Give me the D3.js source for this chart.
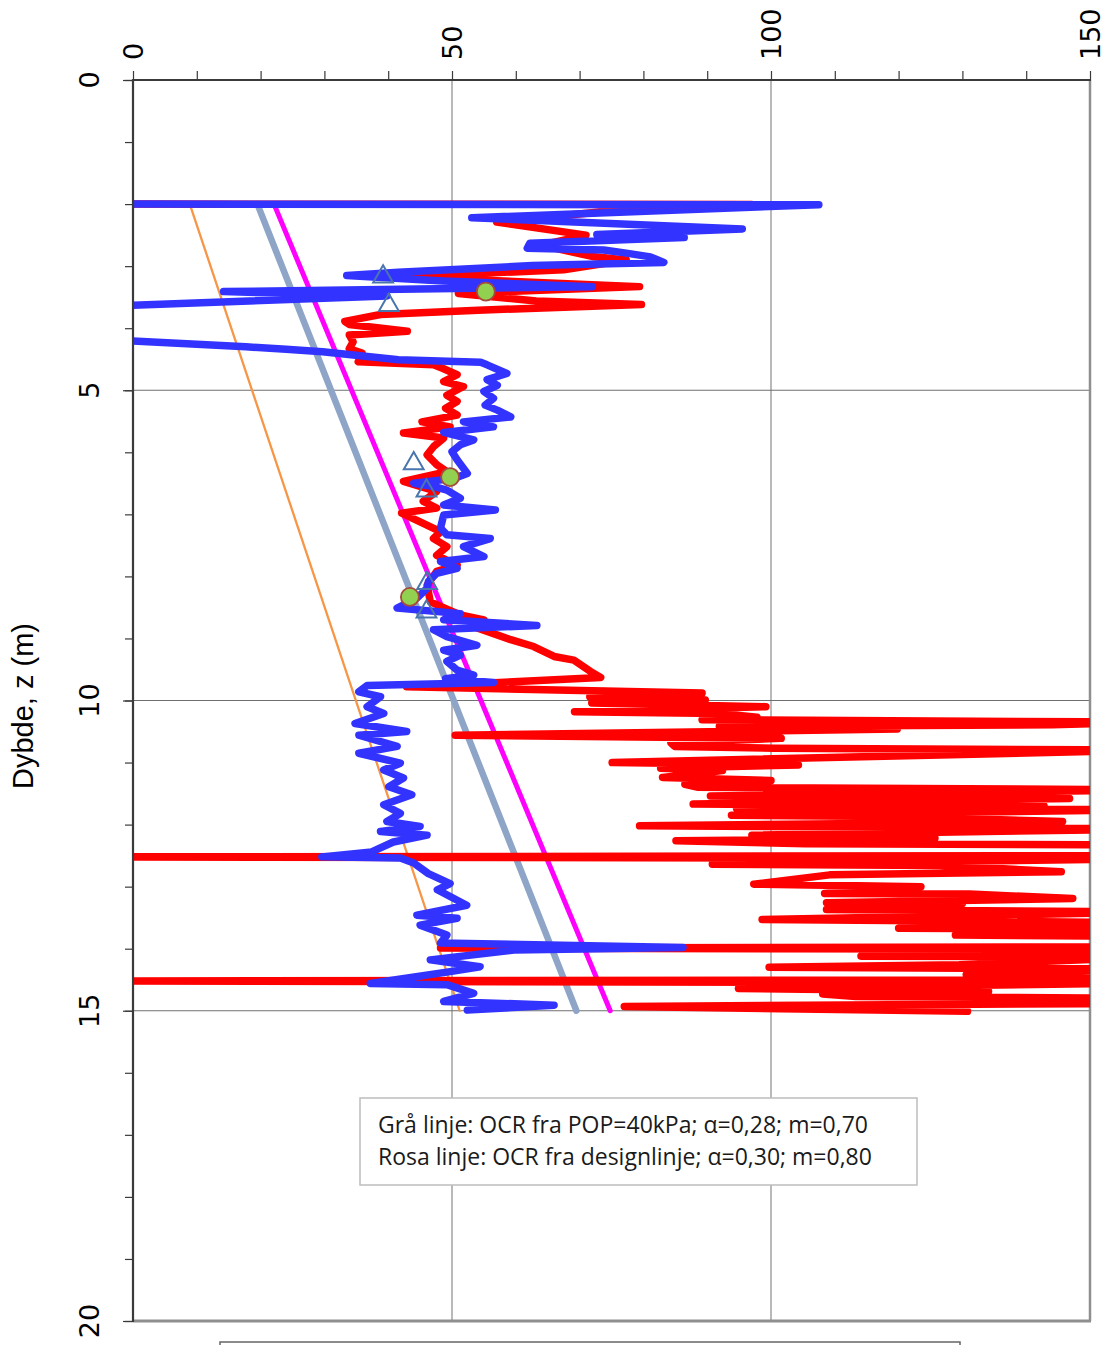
<!DOCTYPE html>
<html>
<head>
<meta charset="utf-8">
<script src="https://cdn.jsdelivr.net/npm/d3@7"></script>
<style>
  html, body { margin: 0; padding: 0; background: #fff; }
  svg { display: block; }
</style>
</head>
<body>
<svg id="chart" width="1108" height="1345"></svg>
<script>
// Profiles as [depth z (m), value]
const redProfile = [
  [2.00,-3],[2.005,97.0],[2.07,78.7],[2.29,57.0],[2.50,71.0],[2.66,64.0],[2.79,69.6],[2.85,72.3],[2.90,77.3],
  [3.06,67.5],[3.17,41.6],[3.33,79.4],[3.44,51.0],[3.56,63.2],[3.62,79.7],[3.71,54.1],[3.78,38.8],[3.89,33.2],
  [3.94,33.9],[4.05,43.0],[4.11,33.9],[4.22,34.5],[4.33,33.9],[4.40,35.9],[4.54,35.3],[4.59,47.1],[4.65,48.6],
  [4.75,50.8],[4.86,48.7],[4.94,51.8],[5.08,49.2],[5.18,50.8],[5.29,49.0],[5.40,50.8],[5.51,45.3],[5.59,49.7],
  [5.69,42.4],[5.77,48.7],[5.91,47.1],[6.04,46.1],[6.20,47.6],[6.31,49.2],[6.47,42.4],[6.63,47.6],[6.79,45.5],
  [6.90,47.6],[6.98,42.1],[7.12,45.0],[7.28,48.2],[7.39,47.1],[7.52,49.2],[7.66,47.6],[7.82,50.8],[7.92,47.6],
  [8.14,46.1],[8.41,46.6],[8.62,51.3],[8.70,55.0],[8.81,53.4],[9.02,59.2],[9.13,62.8],[9.29,66.0],[9.35,69.1],
  [9.53,71.7],[9.63,73.3],[9.78,42.9],[9.88,89.2],[9.94,71.6],[9.99,89.7],[10.04,71.9],[10.10,99.2],[10.18,69.2],
  [10.21,91.9],[10.27,97.8],[10.31,89.2],[10.35,160],[10.39,144.1],[10.42,91.9],[10.46,119.8],[10.56,50.5],
  [10.61,101.6],[10.68,84.3],[10.74,84.9],[10.77,100.5],[10.80,160],[11.00,75.1],[11.04,104.3],[11.09,82.7],
  [11.13,92.4],[11.24,83.0],[11.29,100.0],[11.35,86.5],[11.40,88.6],[11.44,160],[11.54,90.5],[11.58,146.8],
  [11.67,87.8],[11.70,142.8],[11.74,94.6],[11.76,160],[11.85,93.8],[11.87,118.7],[11.95,145.7],[12.02,79.4],
  [12.07,160],[12.17,97.0],[12.22,125.7],[12.26,85.1],[12.31,105.4],[12.33,160],[12.50,160],[12.52,-5],
  [12.55,160],[12.64,90.8],[12.66,126.5],[12.76,145.5],[12.81,109.2],[12.96,97.3],[13.00,123.5],[13.11,108.4],
  [13.12,131.1],[13.19,147.3],[13.26,108.7],[13.27,130.0],[13.37,108.7],[13.39,133.5],[13.41,160],[13.53,98.6],
  [13.58,160],[13.67,120.0],[13.69,160],[13.78,128.9],[13.80,160],[13.97,160],[13.99,48.2],[14.01,160],
  [14.06,125.2],[14.12,114.1],[14.13,160],[14.26,129.5],[14.30,99.7],[14.33,160],[14.42,130.6],[14.50,160],
  [14.52,-5],[14.55,160],[14.64,94.9],[14.69,134.1],[14.73,108.1],[14.77,113.3],[14.80,160],[14.88,160],
  [14.93,77.0],[15.01,130.8]
];

const blueProfile = [
  [2.00,-3],[2.01,107.5],[2.22,53.1],[2.40,95.5],[2.49,72.7],[2.54,86.4],[2.63,62.2],[2.71,61.8],[2.74,73.8],
  [2.79,77.3],[2.85,81.1],[2.94,83.2],[2.99,62.6],[3.10,41.6],[3.15,33.5],[3.24,48.6],[3.33,72.0],[3.41,14.2],
  [3.48,39.8],[3.64,-3],[4.19,-3],[4.30,17.7],[4.34,24.0],[4.38,29.7],[4.51,41.6],[4.55,54.5],[4.59,55.5],
  [4.73,58.6],[4.83,55.5],[4.92,57.1],[5.02,55.0],[5.13,56.5],[5.24,55.2],[5.32,57.1],[5.43,59.2],[5.51,51.8],
  [5.59,56.5],[5.68,48.7],[5.80,53.4],[5.88,51.3],[5.99,50.0],[6.12,50.8],[6.34,52.4],[6.42,50.3],[6.50,44.0],
  [6.55,47.1],[6.61,49.2],[6.74,51.3],[6.85,48.7],[6.93,56.8],[7.01,48.7],[7.22,48.2],[7.33,49.2],[7.39,56.0],
  [7.52,51.8],[7.68,55.0],[7.76,48.2],[7.87,50.8],[7.95,47.6],[8.08,46.3],[8.19,46.1],[8.35,44.5],[8.51,41.4],
  [8.60,51.3],[8.70,48.7],[8.79,63.3],[8.86,47.1],[8.97,49.2],[9.11,53.9],[9.19,48.7],[9.27,51.3],[9.37,49.2],
  [9.51,50.8],[9.59,53.4],[9.65,49.0],[9.71,56.5],[9.76,36.7],[9.86,35.4],[9.94,38.8],[10.10,36.7],[10.21,39.3],
  [10.37,34.8],[10.50,42.9],[10.56,35.4],[10.74,41.4],[10.85,35.4],[11.01,41.9],[11.12,39.3],[11.25,42.4],
  [11.39,40.1],[11.52,43.7],[11.68,39.3],[11.82,41.9],[11.95,39.8],[12.03,45.0],[12.11,38.8],[12.17,46.1],
  [12.28,40.8],[12.44,37.4],[12.52,29.6],[12.54,41.9],[12.62,44.0],[12.79,46.3],[12.95,49.7],[13.05,47.7],
  [13.30,52.3],[13.46,44.5],[13.51,50.8],[13.62,45.0],[13.78,49.2],[13.91,48.2],[13.98,86.2],[14.02,59.7],
  [14.18,46.6],[14.29,54.4],[14.37,49.7],[14.56,37.2],[14.58,49.2],[14.72,53.4],[14.85,48.7],[14.91,66.0],
  [14.99,52.4]
];

// Reference lines [depth, value]
const orangeLine = [[2.0, 8.9], [15.0, 51.2]];
const grayLine   = [[2.0, 19.5], [15.0, 69.5]];
const pinkLine   = [[2.0, 22.1], [15.0, 74.8]];

// Point markers [depth, value]
const triangleMarks = [[3.17,39.2],[3.63,40.1],[6.18,44.0],[6.62,46.0],[8.11,46.1],[8.57,46.0]];
const circleMarks   = [[3.41,55.3],[6.40,49.7],[8.33,43.4]];

// Axis ticks
const xTicksMajor = [0, 50, 100, 150];
const xTicksMinor = [0,10,20,30,40,50,60,70,80,90,100,110,120,130,140,150];
const yTicksMajor = [0, 5, 10, 15, 20];
const yTicksMinor = [0,1,2,3,4,5,6,7,8,9,10,11,12,13,14,15,16,17,18,19,20];
const yAxisTitle = "Dybde, z (m)";
const legendLines = [
  "Grå linje: OCR fra POP=40kPa; α=0,28; m=0,70",
  "Rosa linje: OCR fra designlinje; α=0,30; m=0,80"
];

const svg = d3.select("#chart");
const x = d3.scaleLinear().domain([0, 150]).range([133, 1090]);
const y = d3.scaleLinear().domain([0, 20]).range([80, 1321]);

// Gridlines
svg.append("g").selectAll("line").data([50, 100]).join("line")
  .attr("x1", d => x(d)).attr("x2", d => x(d))
  .attr("y1", y(0)).attr("y2", y(20))
  .attr("stroke", "#8a8a8a").attr("stroke-width", 1.2);
svg.append("g").selectAll("line").data([5, 10, 15]).join("line")
  .attr("x1", x(0)).attr("x2", x(150))
  .attr("y1", d => y(d)).attr("y2", d => y(d))
  .attr("stroke", "#6f6f6f").attr("stroke-width", 1.2);

// Right and bottom frame
svg.append("line").attr("x1", x(150)).attr("x2", x(150)).attr("y1", y(0)).attr("y2", y(20))
  .attr("stroke", "#8f8f8f").attr("stroke-width", 2.5);
svg.append("line").attr("x1", x(0)).attr("x2", x(150) + 1).attr("y1", y(20)).attr("y2", y(20))
  .attr("stroke", "#8f8f8f").attr("stroke-width", 3);

// Data layer
svg.append("clipPath").attr("id", "plotClip").append("rect")
  .attr("x", x(0)).attr("y", y(0) - 5)
  .attr("width", x(150) - x(0)).attr("height", y(20) - y(0) + 5);

const line = d3.line().x(d => x(d[1])).y(d => y(d[0]));
const plot = svg.append("g").attr("clip-path", "url(#plotClip)");

plot.append("path").datum(orangeLine).attr("d", line)
  .attr("fill", "none").attr("stroke", "#F79646").attr("stroke-width", 2.3).attr("stroke-linecap", "round");
plot.append("path").datum(grayLine).attr("d", line)
  .attr("fill", "none").attr("stroke", "#8EA5C8").attr("stroke-width", 6.5).attr("stroke-linecap", "round");
plot.append("path").datum(pinkLine).attr("d", line)
  .attr("fill", "none").attr("stroke", "#FF00FF").attr("stroke-width", 5).attr("stroke-linecap", "round");

plot.append("path").datum(redProfile).attr("d", line)
  .attr("fill", "none").attr("stroke", "#FF0000").attr("stroke-width", 7.5)
  .attr("stroke-linecap", "round").attr("stroke-linejoin", "round");
plot.append("path").datum(blueProfile).attr("d", line)
  .attr("fill", "none").attr("stroke", "#3333FF").attr("stroke-width", 7.5)
  .attr("stroke-linecap", "round").attr("stroke-linejoin", "round");

// Markers
const tri = d3.symbol().type(d3.symbolTriangle).size(170);
svg.append("g").selectAll("path").data(triangleMarks).join("path")
  .attr("d", tri)
  .attr("transform", d => `translate(${x(d[1])},${y(d[0])})`)
  .attr("fill", "none").attr("stroke", "#4A76AE").attr("stroke-width", 2);
svg.append("g").selectAll("circle").data(circleMarks).join("circle")
  .attr("cx", d => x(d[1])).attr("cy", d => y(d[0])).attr("r", 9)
  .attr("fill", "#92D050").attr("stroke", "#A54A3C").attr("stroke-width", 1.8);

// Axes
const axisColor = "#3a3a3a";
const topAxis = svg.append("g").attr("transform", `translate(0,${y(0)})`)
  .call(d3.axisTop(x).tickValues(xTicksMinor).tickSize(9).tickFormat(""));
topAxis.select(".domain").remove();
topAxis.selectAll(".tick line").attr("stroke", axisColor).attr("stroke-width", 1.2);

const leftMinor = svg.append("g").attr("transform", `translate(${x(0)},0)`)
  .call(d3.axisLeft(y).tickValues(yTicksMinor).tickSize(8).tickFormat(""));
leftMinor.select(".domain").remove();
leftMinor.selectAll(".tick line").attr("stroke", axisColor).attr("stroke-width", 1.2);
const leftMajor = svg.append("g").attr("transform", `translate(${x(0)},0)`)
  .call(d3.axisLeft(y).tickValues(yTicksMajor).tickSize(10).tickFormat(""));
leftMajor.select(".domain").remove();
leftMajor.selectAll(".tick line").attr("stroke", axisColor).attr("stroke-width", 1.2);

svg.append("line").attr("x1", x(0) - 1).attr("x2", x(150) + 1).attr("y1", y(0)).attr("y2", y(0))
  .attr("stroke", axisColor).attr("stroke-width", 2.2);
svg.append("line").attr("x1", x(0)).attr("x2", x(0)).attr("y1", y(0) - 1).attr("y2", y(20) + 1)
  .attr("stroke", axisColor).attr("stroke-width", 2.2);

// Tick labels (rotated)
svg.append("g").selectAll("text").data(xTicksMajor).join("text")
  .attr("transform", d => `translate(${x(d) + 9.5},60) rotate(-90)`)
  .attr("text-anchor", "start")
  .attr("font-family", "DejaVu Sans").attr("font-size", 27).attr("fill", "#000")
  .text(d => d);
svg.append("g").selectAll("text").data(yTicksMajor).join("text")
  .attr("transform", d => `translate(99,${y(d)}) rotate(-90)`)
  .attr("text-anchor", "middle")
  .attr("font-family", "DejaVu Sans").attr("font-size", 27).attr("fill", "#000")
  .text(d => d);

svg.append("text")
  .attr("transform", "translate(33,706) rotate(-90)")
  .attr("text-anchor", "middle")
  .attr("font-family", "Liberation Sans, Arial, sans-serif").attr("font-size", 29).attr("fill", "#000")
  .text(yAxisTitle);

// Annotation box
svg.append("rect").attr("x", 360).attr("y", 1098).attr("width", 557).attr("height", 87)
  .attr("fill", "#fff").attr("stroke", "#bdbdbd").attr("stroke-width", 1.5);
svg.append("g").selectAll("text").data(legendLines).join("text")
  .attr("x", 378).attr("y", (d, i) => 1133 + i * 32)
  .attr("font-family", "'Open Sans', sans-serif").attr("font-size", 23).attr("fill", "#1a1a1a")
  .text(d => d);

// Lower panel frame edge
svg.append("rect").attr("x", 220).attr("y", 1342).attr("width", 740).attr("height", 30)
  .attr("fill", "none").attr("stroke", "#666").attr("stroke-width", 1.5);
</script>
</body>
</html>
